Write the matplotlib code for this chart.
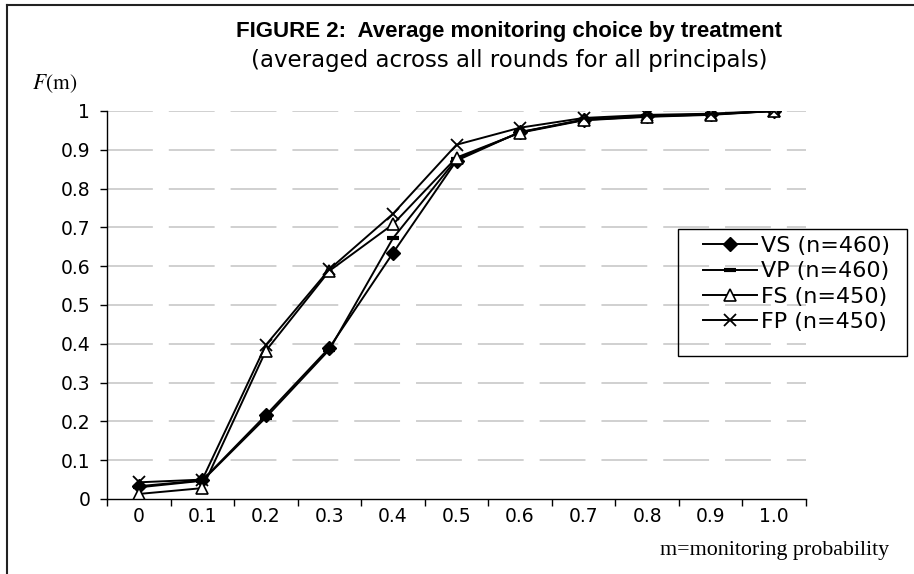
import matplotlib
matplotlib.use('Agg')
import matplotlib.pyplot as plt
from matplotlib.lines import Line2D
from matplotlib.patches import Rectangle
import numpy as np

plt.rcParams['lines.scale_dashes'] = False
plt.rcParams['mathtext.fontset'] = 'stix'

# monitoring probability categories
categories = ['0', '0.1', '0.2', '0.3', '0.4', '0.5', '0.6', '0.7', '0.8', '0.9', '1.0']

# cumulative share F(m) per treatment
vs = [0.033, 0.048, 0.216, 0.390, 0.634, 0.872, 0.946, 0.977, 0.986, 0.991, 1.0]
vp = [0.030, 0.047, 0.210, 0.385, 0.672, 0.876, 0.945, 0.978, 0.987, 0.992, 1.0]
fs = [0.013, 0.028, 0.382, 0.588, 0.708, 0.880, 0.944, 0.976, 0.985, 0.990, 1.0]
fp = [0.043, 0.050, 0.397, 0.592, 0.735, 0.913, 0.957, 0.982, 0.990, 0.993, 1.0]

labels = ['VS (n=460)', 'VP (n=460)', 'FS (n=450)', 'FP (n=450)']
y_ticks = [0, 0.1, 0.2, 0.3, 0.4, 0.5, 0.6, 0.7, 0.8, 0.9, 1]
y_ticklabels = ['0', '0.1', '0.2', '0.3', '0.4', '0.5', '0.6', '0.7', '0.8', '0.9', '1']

fig = plt.figure(figsize=(9.14, 5.74), dpi=100)
ax = fig.add_axes([107/914, 1 - 499/574, 699/914, 388/574])

x = np.arange(len(categories))
ax.plot(x, vs, color='black', lw=1.4, marker='D', ms=7, mfc='black', mec='black', label=labels[0])
ax.plot(x, vp, color='black', lw=1.4, marker='_', ms=9, mew=3, mec='black', label=labels[1])
ax.plot(x, fs, color='black', lw=1.4, marker='^', ms=8, mfc='white', mec='black', mew=1.2, label=labels[2])
ax.plot(x, fp, color='black', lw=1.4, marker='x', ms=9, mec='black', mew=1.3, label=labels[3])

ax.set_xlim(-0.5, len(categories) - 0.5)
ax.set_ylim(0, 1)
ax.set_yticks(y_ticks)
ax.set_yticklabels(y_ticklabels)
ax.set_xticks(x)
ax.set_xticklabels(categories)
# excel style: tick marks sit between categories
ax.set_xticks(np.arange(len(categories) + 1) - 0.5, minor=True)
ax.tick_params(axis='x', which='major', length=0, pad=6, labelsize=13.5)
ax.tick_params(axis='x', which='minor', length=5, width=1, direction='out')
ax.tick_params(axis='y', length=5, width=1, direction='out', pad=7, labelsize=13.5)

for yv in y_ticks[1:]:
    ax.axhline(yv, color='#c8c8c8', lw=1.2, linestyle=(0, (33, 11.5)), zorder=0)

for side in ['top', 'right']:
    ax.spines[side].set_visible(False)
ax.spines['left'].set_linewidth(1)
ax.spines['bottom'].set_linewidth(1)

# legend without its own frame, box drawn separately like the excel one
fig.legend(loc='upper left', bbox_to_anchor=(703/914, 1 - 236/574), fontsize=16,
           frameon=False, handlelength=2.45, numpoints=1, labelspacing=0.24,
           borderpad=0, handletextpad=0.15, borderaxespad=0)
fig.add_artist(Rectangle((678/914, 1 - 356/574), 229/914, 127/574, transform=fig.transFigure,
                         fill=False, edgecolor='black', lw=1))

fig.text(509/914, 1 - 31/574, 'FIGURE 2:  Average monitoring choice by treatment',
         ha='center', va='center', fontsize=16, fontweight='bold', family='Liberation Sans')
fig.text(509/914, 1 - 60/574, '(averaged across all rounds for all principals)',
         ha='center', va='center', fontsize=16.5)
fig.text(55/914, 1 - 84/574, r'$F(\mathrm{m})$', ha='center', va='center', fontsize=15.5)
fig.text(775/914, 1 - 550/574, 'm=monitoring probability', ha='center', va='center',
         fontsize=15.8, family='Liberation Serif')

# outer frame, left and top only
fig.add_artist(Line2D([7/914, 7/914], [0, 1 - 5/574], color='#222222', lw=1.5))
fig.add_artist(Line2D([7/914, 1], [1 - 5/574, 1 - 5/574], color='#222222', lw=1.5))

fig.savefig('out.png', dpi=100)
